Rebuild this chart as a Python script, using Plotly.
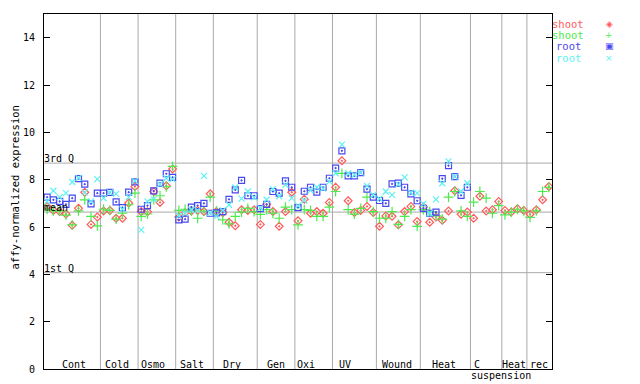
import plotly.graph_objects as go

# ---------------- data ----------------
groups = ["Cont", "Cold", "Osmo", "Salt", "Dry", "Gen", "Oxi", "UV", "Wound", "Heat", "C", "Heat", "rec"]
group_sizes = [9, 6, 6, 6, 7, 6, 6, 7, 7, 8, 5, 4, 4]

shoot_rep1 = [6.87, 6.70, 6.65, 6.55, 6.07, 6.79, 7.47, 6.11, 6.42,
              6.68, 6.70, 6.37, 6.37, 7.01, 7.71,
              6.65, 6.64, 7.50, 7.04, 7.74, 8.45,
              6.42, 6.60, 6.68, 6.70, 6.65, 7.40,
              6.65, 6.60, 6.20, 6.05, 6.73, 6.70, 6.73,
              6.11, 6.96, 6.65, 6.03, 6.65, 7.47,
              6.26, 7.17, 6.58, 6.65, 6.58, 7.04,
              7.68, 8.80, 7.11, 6.61, 6.70, 6.87, 6.61,
              6.03, 6.47, 6.45, 6.09, 6.65, 6.87, 6.23,
              6.84, 6.20, 6.42, 6.28, 6.68, 7.53, 6.54, 6.63,
              6.37, 7.30, 6.68, 6.73, 7.08,
              6.70, 6.63, 6.77, 6.70,
              6.54, 6.73, 7.15, 7.71]
shoot_rep2 = [6.75, 6.68, 6.68, 6.50, 6.09, 6.68, 7.15, 6.45, 6.05,
              6.75, 6.70, 6.33, 6.58, 6.94, 7.43,
              6.45, 6.55, 7.15, 7.32, 7.70, 8.56,
              6.70, 6.75, 6.68, 6.37, 6.67, 7.26,
              6.68, 6.30, 6.13, 6.45, 6.63, 6.79, 6.65,
              6.53, 6.73, 6.58, 6.37, 6.84, 6.73,
              6.09, 6.73, 6.70, 6.45, 6.45, 6.84,
              7.50, 8.27, 6.73, 6.54, 6.79, 7.26, 6.65,
              6.37, 6.37, 6.65, 6.11, 6.45, 6.73, 6.03,
              6.73, 6.65, 6.47, 6.33, 7.26, 7.50, 6.68, 6.45,
              7.05, 7.50, 7.22, 6.58, 6.90,
              6.51, 6.63, 6.75, 6.68,
              6.41, 6.68, 7.50, 7.68]
root_rep1 = [7.26, 7.15, 7.08, 6.96, 7.22, 8.04, 7.81, 6.98, 7.43,
             7.43, 7.46, 7.06, 6.82, 7.47, 7.91,
             6.75, 6.90, 7.53, 7.85, 8.25, 8.10,
             6.30, 6.33, 6.84, 6.90, 7.00, 6.58,
             6.60, 6.65, 7.17, 7.57, 7.97, 7.32, 7.32,
             6.78, 6.96, 7.50, 7.43, 7.95, 7.68,
             6.82, 7.51, 7.68, 7.47, 7.68, 8.06,
             8.49, 9.22, 8.16, 8.16, 8.30, 7.60, 7.26,
             7.12, 7.00, 7.82, 7.85, 7.68, 7.40, 7.11,
             6.79, 6.58, 6.63, 8.04, 8.59, 8.13, 7.34, 7.68,
             None, None, None, None, None,
             None, None, None, None,
             None, None, None, None]
root_rep2 = [7.08, 7.53, 7.26, 7.43, 7.90, 8.07, 7.46, 7.08, 8.02,
             7.22, 7.46, 7.40, 6.75, 7.26, 7.94,
             5.88, 7.08, 7.17, 7.81, 8.06, 8.02,
             6.47, 6.58, 6.73, 6.70, 8.16, 6.60,
             6.45, 6.70, 6.94, 7.67, 7.20, 7.50, 7.25,
             6.80, 7.15, 7.60, 7.30, 7.78, 7.22,
             6.90, 7.12, 7.55, 7.68, 7.62, 7.92,
             8.27, 9.48, 8.27, 8.20, 8.30, 7.74, 7.36,
             7.20, 7.50, 7.36, 7.80, 8.10, 7.45, 7.43,
             6.98, 6.58, 7.17, 7.85, 8.77, 8.13, 7.50, 7.85,
             None, None, None, None, None,
             None, None, None, None,
             None, None, None, None]

stat_names = ["3rd Q", "mean", "1st Q"]
stat_values = [8.70, 6.63, 4.07]

y_ticks = [0, 2, 4, 6, 8, 10, 12, 14]

series_names = ["shoot", "shoot", "root", "root"]

# ---------------- styles ----------------
colors = ["#ff5a5a", "#4cec4c", "#4848f0", "#5cf2f2"]
symbols = ["diamond-open-dot", "cross-thin-open", "square-open-dot", "x-thin-open"]
sizes = [6, 7, 6, 6]
legend_glyphs = ["◈", "+", "▣", "×"]
label_xshift = [2, -2, -4, -3, -3, 0, -8, -9, -1, -1, -9, 0, 0]
FONT = "DejaVu Sans Mono"

n = sum(group_sizes)
xs = [i + 0.5 for i in range(n)]
bounds = [0]
for s in group_sizes:
    bounds.append(bounds[-1] + s)

fig = go.Figure()
for vals, name, c, sym, sz in zip([shoot_rep1, shoot_rep2, root_rep1, root_rep2],
                                   series_names, colors, symbols, sizes):
    fig.add_trace(go.Scatter(
        x=xs, y=vals, mode="markers", name=name, showlegend=False,
        marker=dict(symbol=sym, size=sz, color=c, line=dict(color=c, width=1.2)),
    ))

shapes = []
for b in bounds[1:-1]:
    shapes.append(dict(type="line", xref="x", yref="paper", x0=b, x1=b, y0=0, y1=1,
                       line=dict(color="#aaaaaa", width=1), layer="below"))
for v in stat_values:
    shapes.append(dict(type="line", xref="paper", yref="y", x0=0, x1=1, y0=v, y1=v,
                       line=dict(color="#aaaaaa", width=1), layer="below"))

annotations = []
for name, v in zip(stat_names, stat_values):
    annotations.append(dict(xref="paper", yref="y", x=0, y=v, text=name, showarrow=False,
                            xanchor="left", yanchor="bottom", xshift=-2, yshift=-3,
                            font=dict(family=FONT, size=10, color="#000000")))
for g, lo, hi, sh in zip(groups, bounds[:-1], bounds[1:], label_xshift):
    annotations.append(dict(xref="x", yref="paper", x=(lo + hi) / 2, y=0, text=g,
                            showarrow=False, xanchor="center", yanchor="bottom",
                            xshift=sh, yshift=-3,
                            font=dict(family=FONT, size=10, color="#000000")))
c_idx = groups.index("C")
annotations.append(dict(xref="x", yref="paper", x=(bounds[c_idx] + bounds[c_idx + 1]) / 2, y=0,
                        text="suspension", showarrow=False, xanchor="center", yanchor="top",
                        xshift=15, yshift=1,
                        font=dict(family=FONT, size=10, color="#000000")))
annotations.append(dict(xref="paper", yref="paper", x=(14.5 - 44) / 508, y=0.51,
                        text="affy-normalized expression", textangle=-90, showarrow=False,
                        xanchor="center", yanchor="middle",
                        font=dict(family=FONT, size=10.5, color="#000000")))
# legend (text then symbol)
for k, (name, c, gl) in enumerate(zip(series_names, colors, legend_glyphs)):
    ypix = 24 + k * 11.2
    ypap = (369 - ypix) / 355
    annotations.append(dict(xref="paper", yref="paper", x=(568 - 44) / 508, y=ypap, text=name,
                            showarrow=False, xanchor="center", yanchor="middle",
                            font=dict(family=FONT, size=10.5, color=c)))
    annotations.append(dict(xref="paper", yref="paper", x=(609 - 44) / 508, y=ypap, text=gl,
                            showarrow=False, xanchor="center", yanchor="middle",
                            font=dict(family="DejaVu Sans", size=9, color=c)))

# the page body adds an 8px offset, so margins are shifted to compensate
fig.update_layout(
    width=640, height=384,
    margin=dict(l=36, r=96, t=6, b=23, pad=0, autoexpand=False),
    paper_bgcolor="white", plot_bgcolor="white",
    shapes=shapes, annotations=annotations,
    showlegend=False,
    font=dict(family=FONT, size=10, color="#000000"),
    xaxis=dict(range=[0, n], showgrid=False, zeroline=False, showticklabels=False,
               ticks="", showline=True, linecolor="#000000", linewidth=1, mirror=True,
               automargin=False),
    yaxis=dict(range=[0, 15], tickvals=y_ticks, showgrid=False, zeroline=False,
               ticks="inside", ticklen=6, tickcolor="#000000", showline=True,
               linecolor="#000000", linewidth=1, mirror="ticks",
               tickfont=dict(family=FONT, size=10, color="#000000"),
               ticklabelstandoff=6, automargin=False),
)

fig.write_html("out.html")
